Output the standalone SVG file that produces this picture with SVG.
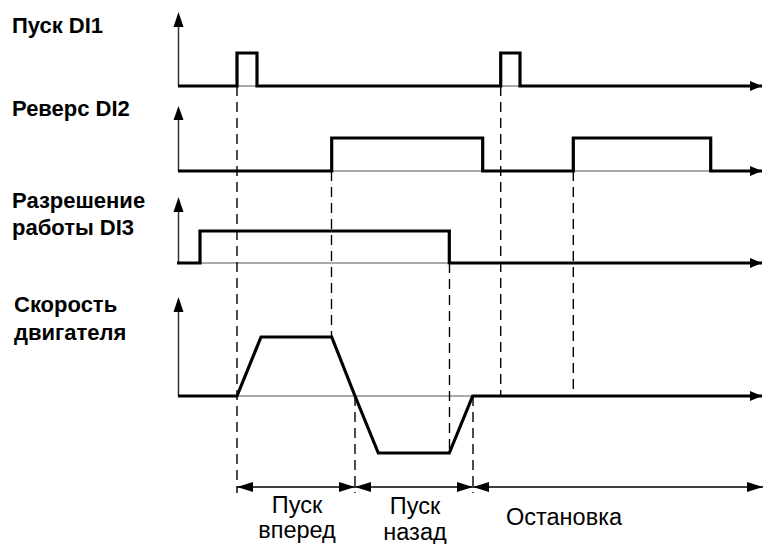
<svg xmlns="http://www.w3.org/2000/svg" width="763" height="544" viewBox="0 0 763 544">
<style>
.lbl{font-family:"Liberation Sans",Arial,sans-serif;font-weight:bold;font-size:22px;fill:#000}
.txt{font-family:"Liberation Sans",Arial,sans-serif;font-size:23.5px;fill:#000;text-anchor:middle}
.sig{fill:none;stroke:#000;stroke-width:3.2;stroke-linejoin:miter}
.axis{fill:none;stroke:#333;stroke-width:1.5}
.base{fill:none;stroke:#555;stroke-width:1}
.dash{fill:none;stroke:#000;stroke-width:1.4;stroke-dasharray:10,6}
.dim{fill:none;stroke:#000;stroke-width:1.5}
</style>
<defs>
<marker id="ah" markerUnits="userSpaceOnUse" markerWidth="14" markerHeight="12" refX="12" refY="5" orient="auto">
<path d="M0,0 L12,5 L0,10 Z" fill="#000"/>
</marker>
<marker id="dh" markerUnits="userSpaceOnUse" markerWidth="18" markerHeight="12" refX="16" refY="5" orient="auto-start-reverse">
<path d="M0,0 L16,5 L0,10 Z" fill="#000"/>
</marker>
</defs>

<g id="labels">
<text class="lbl" x="12" y="33">Пуск DI1</text>
<text class="lbl" x="12" y="116">Реверс DI2</text>
<text class="lbl" x="12" y="208">Разрешение</text>
<text class="lbl" x="12" y="235">работы DI3</text>
<text class="lbl" x="14" y="312">Скорость</text>
<text class="lbl" x="14" y="340">двигателя</text>
</g>

<g id="axes">
<line class="axis" x1="178.5" y1="86" x2="178.5" y2="24"/>
<path d="M178.5,12 L173.5,27 L183.5,27 Z"/>
<line class="axis" x1="178.5" y1="171" x2="178.5" y2="116"/>
<path d="M178.5,106 L173.5,120 L183.5,120 Z"/>
<line class="axis" x1="178.5" y1="263" x2="178.5" y2="208"/>
<path d="M178.5,197 L173.5,212 L183.5,212 Z"/>
<line class="axis" x1="178.5" y1="396" x2="178.5" y2="308"/>
<path d="M178.5,297 L173.5,312 L183.5,312 Z"/>
<line class="base" x1="178" y1="86" x2="750" y2="86"/>
<line class="base" x1="178" y1="171" x2="750" y2="171"/>
<line class="base" x1="178" y1="263" x2="750" y2="263"/>
<line class="base" x1="178" y1="396" x2="750" y2="396"/>
</g>

<g id="connectors">
<line class="dash" x1="237" y1="86" x2="237" y2="493"/>
<line class="dash" x1="331.5" y1="171" x2="331.5" y2="337"/>
<line class="dash" x1="355" y1="396" x2="355" y2="493"/>
<line class="dash" x1="449.5" y1="263" x2="449.5" y2="453"/>
<line class="dash" x1="473" y1="396" x2="473" y2="493"/>
<line class="dash" x1="500.7" y1="86" x2="500.7" y2="396"/>
<line class="dash" x1="573.3" y1="171" x2="573.3" y2="396"/>
</g>

<g id="sig-di1">
<polyline class="sig" points="178,86 237,86 237,53 257,53 257,86 500.7,86 500.7,53 520,53 520,86 762,86" marker-end="url(#ah)"/>
</g>
<g id="sig-di2">
<polyline class="sig" points="178,171 331.7,171 331.7,138 482.7,138 482.7,171 573.3,171 573.3,138 710.7,138 710.7,171 762,171" marker-end="url(#ah)"/>
</g>
<g id="sig-di3">
<polyline class="sig" points="177,263 200,263 200,231 449.3,231 449.3,263 762,263" marker-end="url(#ah)"/>
</g>
<g id="sig-speed">
<polyline class="sig" points="178,396 237,396 261,337 331.7,337 355,396 378.3,453 449.3,453 472.7,396 762,396" marker-end="url(#ah)"/>
</g>

<g id="dimensions">
<line class="dim" x1="237" y1="487" x2="355" y2="487" marker-start="url(#dh)" marker-end="url(#dh)"/>
<line class="dim" x1="355" y1="487" x2="473" y2="487" marker-start="url(#dh)" marker-end="url(#dh)"/>
<line class="dim" x1="473" y1="487" x2="763" y2="487" marker-start="url(#dh)" marker-end="url(#dh)"/>
<text class="txt" x="297" y="513">Пуск</text>
<text class="txt" x="297" y="538">вперед</text>
<text class="txt" x="415" y="514">Пуск</text>
<text class="txt" x="415" y="540">назад</text>
<text class="txt" x="564" y="525">Остановка</text>
</g>
</svg>
